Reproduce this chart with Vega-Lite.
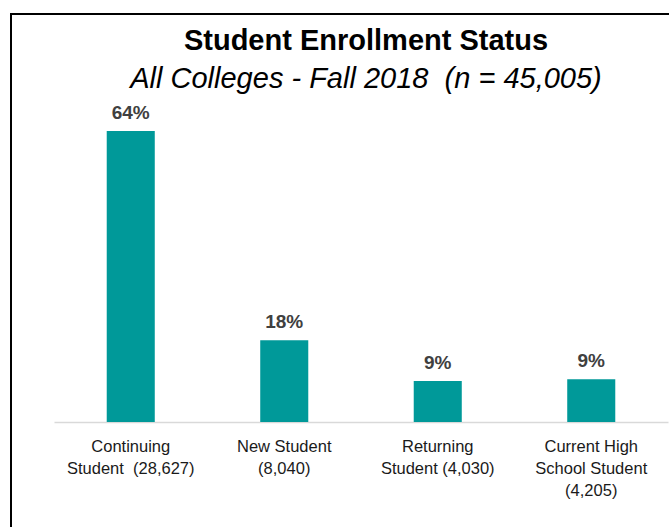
{
  "$schema": "https://vega.github.io/schema/vega-lite/v6.json",
  "autosize": "none",
  "width": 670,
  "height": 527,
  "padding": {"left": 11, "top": 14, "right": 0, "bottom": 0},
  "background": "white",
  "config": {
    "font": "Liberation Sans",
    "view": {"stroke": "#000000", "strokeWidth": 2}
  },
  "title": {
    "text": "Student Enrollment Status",
    "subtitle": "All Colleges - Fall 2018 \u00a0(n = 45,005)",
    "anchor": "middle",
    "frame": "group",
    "orient": "top",
    "offset": -80,
    "dx": 20,
    "font": "Liberation Sans",
    "fontSize": 29,
    "fontWeight": "bold",
    "color": "#000000",
    "subtitleFont": "Liberation Sans",
    "subtitleFontSize": 29,
    "subtitleFontStyle": "italic",
    "subtitleColor": "#000000",
    "subtitlePadding": 9
  },
  "data": {
    "values": [
      {"status": "Continuing|Student \u00a0(28,627)", "count": 28627, "pct": "64%"},
      {"status": "New Student|(8,040)", "count": 8040, "pct": "18%"},
      {"status": "Returning|Student (4,030)", "count": 4030, "pct": "9%"},
      {"status": "Current High|School Student|(4,205)", "count": 4205, "pct": "9%"}
    ]
  },
  "encoding": {
    "x": {
      "field": "status",
      "type": "nominal",
      "sort": null,
      "scale": {"range": [43, 657], "paddingInner": 0.687, "paddingOuter": 0.3435},
      "axis": {
        "title": null,
        "labelAngle": 0,
        "labelExpr": "split(datum.label, '|')",
        "labelFont": "Liberation Sans",
        "labelFontSize": 16.5,
        "labelLineHeight": 22,
        "labelColor": "#1a1a1a",
        "labelPadding": 16,
        "labelLimit": 0,
        "ticks": false,
        "domainColor": "#d9d9d9",
        "domainWidth": 1.5,
        "offset": -119
      }
    },
    "y": {
      "field": "count",
      "type": "quantitative",
      "scale": {"domain": [0, 30000], "range": [408, 103], "nice": false},
      "axis": null
    }
  },
  "layer": [
    {"mark": {"type": "bar", "color": "#009999"}},
    {
      "mark": {"type": "text", "dy": -12, "baseline": "alphabetic", "fontSize": 19, "fontWeight": "bold", "color": "#404040"},
      "encoding": {"text": {"field": "pct"}}
    }
  ]
}
